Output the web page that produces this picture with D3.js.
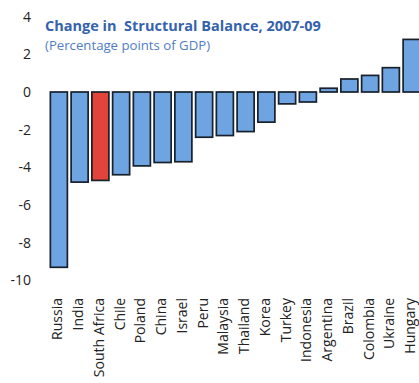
<!DOCTYPE html>
<html>
<head>
<meta charset="utf-8">
<script src="https://cdn.jsdelivr.net/npm/d3@7"></script>
<style>
  html, body { margin: 0; padding: 0; background: #fff; }
  svg { display: block; font-family: "Open Sans", "Noto Sans", sans-serif; }
</style>
</head>
<body>
<svg id="chart" width="419" height="383"></svg>
<script>
// Change in structural balance, 2007-09 (percentage points of GDP)
const countries = ["Russia", "India", "South Africa", "Chile", "Poland", "China", "Israel", "Peru",
  "Malaysia", "Thailand", "Korea", "Turkey", "Indonesia", "Argentina", "Brazil", "Colombia", "Ukraine", "Hungary"];
const values = [-9.3, -4.78, -4.69, -4.39, -3.92, -3.74, -3.7, -2.4,
  -2.31, -2.1, -1.6, -0.63, -0.53, 0.2, 0.69, 0.88, 1.29, 2.79];
const highlighted = ["South Africa"];
const yTicks = [4, 2, 0, -2, -4, -6, -8, -10];

const svg = d3.select("#chart");

const x = d3.scaleBand()
  .domain(countries)
  .range([48.5, 422])
  .paddingInner(0.18)
  .paddingOuter(0.09);

const y = d3.scaleLinear()
  .domain([-10, 4])
  .range([280.5, 16.6]);

// y axis: labels only, no line or tick marks
const yAxis = d3.axisLeft(y).tickValues(yTicks).tickSize(0).tickPadding(0)
  .tickFormat(d3.format("d"));
const gy = svg.append("g").attr("transform", "translate(31,0)").call(yAxis);
gy.select(".domain").remove();
gy.selectAll("text")
  .attr("font-size", 14)
  .attr("font-family", "\"Open Sans\", sans-serif")
  .attr("fill", "#222")
  .text(d => d < 0 ? "-" + Math.abs(d) : d);

// bars
svg.append("g").selectAll("rect")
  .data(countries.map((c, i) => ({ c, v: values[i] })))
  .join("rect")
  .attr("x", d => x(d.c))
  .attr("width", x.bandwidth())
  .attr("y", d => y(Math.max(0, d.v)))
  .attr("height", d => Math.abs(y(d.v) - y(0)))
  .attr("fill", d => highlighted.includes(d.c) ? "#e2443c" : "#6ea4e2")
  .attr("stroke", "#17202b")
  .attr("stroke-width", 1.7);

// x axis: rotated category labels
const xAxis = d3.axisBottom(x).tickSize(0).tickPadding(0);
const gx = svg.append("g").attr("transform", "translate(0,298)").call(xAxis);
gx.select(".domain").remove();
gx.selectAll("text")
  .attr("font-size", 14)
  .attr("font-family", "\"Open Sans\", sans-serif")
  .attr("fill", "#222")
  .attr("text-anchor", "end")
  .attr("transform", "rotate(-90)")
  .attr("x", 0)
  .attr("y", 0)
  .attr("dy", "0.25em");
gx.selectAll(".tick").attr("transform", d => `translate(${x(d) + x.bandwidth() / 2},0)`);

// titles
svg.append("text")
  .attr("x", 45).attr("y", 31)
  .attr("font-size", 14.5).attr("font-weight", "bold")
  .attr("fill", "#3462ad")
  .style("white-space", "pre")
  .text("Change in  Structural Balance, 2007-09");
svg.append("text")
  .attr("x", 45).attr("y", 50)
  .attr("font-size", 13.2)
  .attr("fill", "#4f7dc4")
  .text("(Percentage points of GDP)");
</script>
</body>
</html>
